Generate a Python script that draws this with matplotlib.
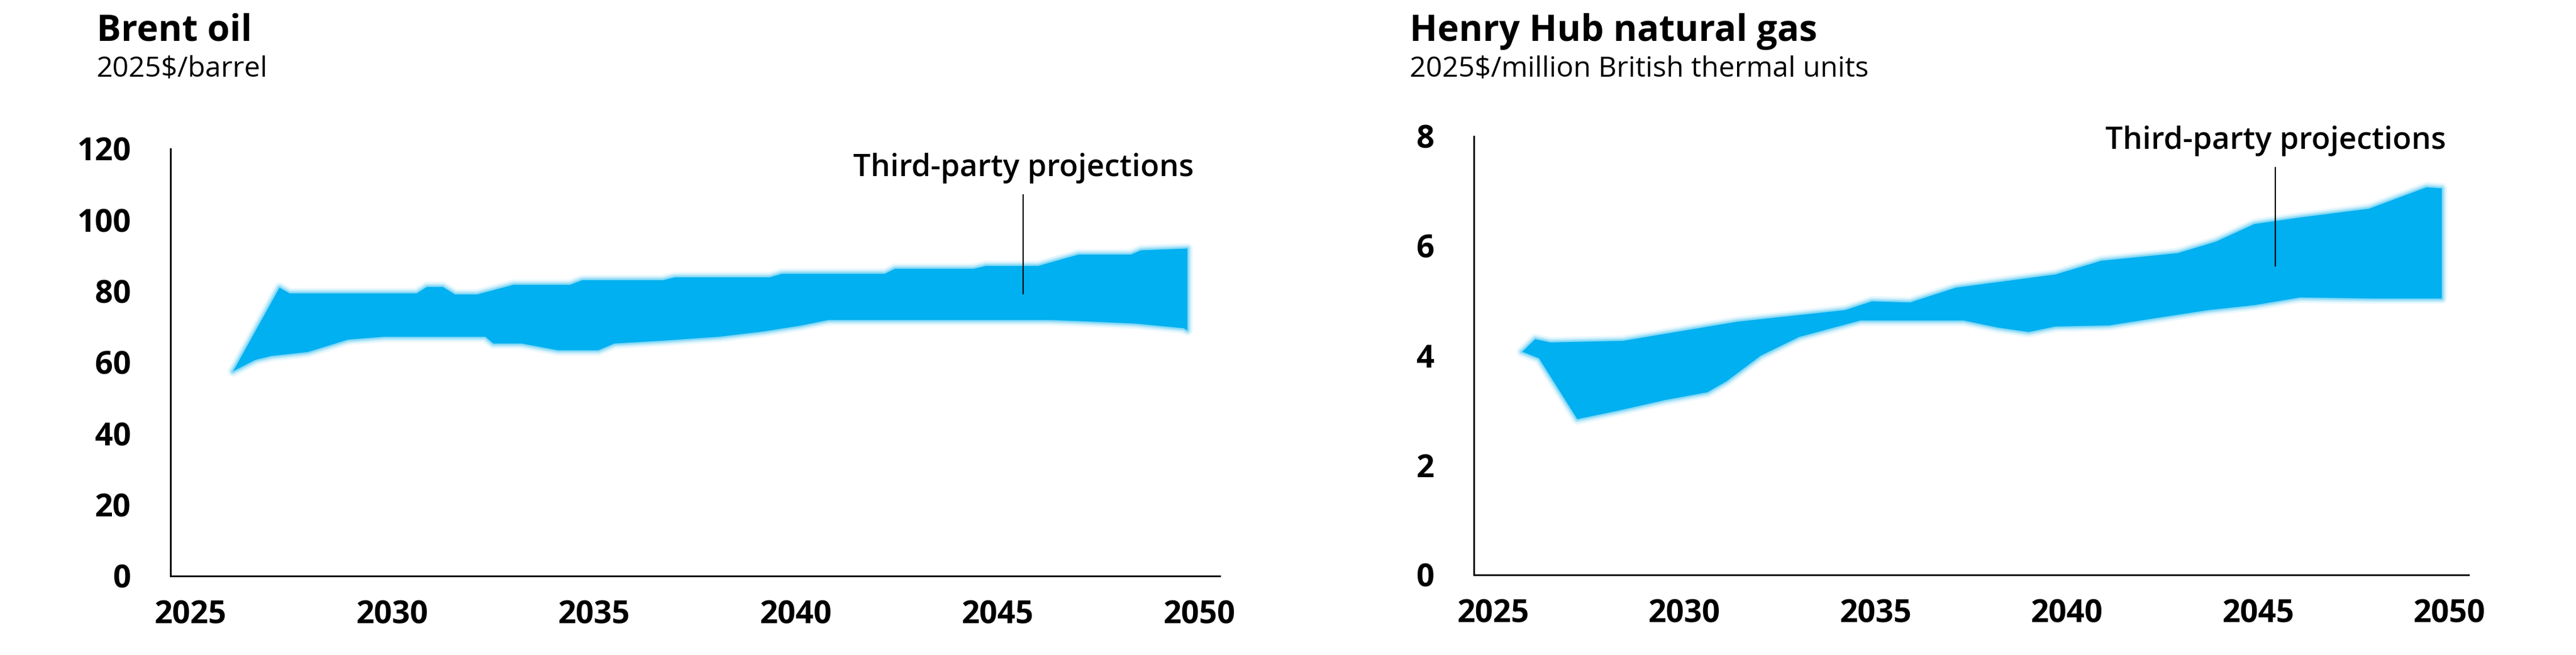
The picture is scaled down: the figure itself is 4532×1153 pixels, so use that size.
import matplotlib
matplotlib.use("Agg")
import matplotlib.pyplot as plt
import numpy as np

plt.rcParams["font.family"] = ["Open Sans", "DejaVu Sans"]

BAND_COLOR = "#00B0F0"

# Brent oil range of third-party projections (2025$/barrel)
oil_hi_years = [2026.05, 2027.2, 2027.45, 2030.6, 2030.85, 2031.25, 2031.55, 2032.1,
                2033.0, 2034.4, 2034.7, 2036.7, 2037.0, 2039.35, 2039.65, 2042.2,
                2042.45, 2044.4, 2044.7, 2046.0, 2047.0, 2048.3, 2048.55, 2049.7]
oil_hi = [57.5, 81.0, 79.4, 79.4, 81.2, 81.2, 79.1, 79.1,
          81.8, 81.8, 83.1, 83.1, 83.9, 83.9, 84.9, 84.9,
          86.3, 86.3, 87.1, 87.1, 90.3, 90.3, 91.5, 92.0]
oil_lo_years = [2026.05, 2026.6, 2027.0, 2027.9, 2028.9, 2029.8, 2032.3, 2032.5,
                2033.2, 2034.1, 2035.1, 2035.5, 2036.7, 2038.1, 2039.2, 2040.1,
                2040.8, 2046.3, 2047.0, 2048.4, 2049.6, 2049.7]
oil_lo = [57.5, 60.7, 61.8, 62.9, 66.4, 67.2, 67.2, 65.3,
          65.3, 63.4, 63.4, 65.3, 66.1, 67.2, 68.7, 70.3,
          71.9, 71.9, 71.6, 70.9, 69.6, 69.0]

# Henry Hub natural gas range (2025$/million Btu)
gas_hi_years = [2025.76, 2026.1, 2026.5, 2028.4, 2031.4, 2034.2, 2034.9, 2035.9,
                2037.1, 2039.7, 2040.9, 2042.9, 2043.9, 2044.9, 2046.1, 2047.9,
                2049.4, 2049.8]
gas_hi = [4.07, 4.30, 4.24, 4.27, 4.62, 4.83, 4.99, 4.97,
          5.24, 5.48, 5.73, 5.87, 6.08, 6.40, 6.52, 6.68,
          7.07, 7.05]
gas_lo_years = [2025.76, 2026.2, 2027.2, 2028.3, 2029.5, 2030.6, 2031.1, 2032.0,
                2033.0, 2034.6, 2037.3, 2038.2, 2039.0, 2039.7, 2041.1, 2042.2,
                2043.7, 2044.9, 2046.1, 2048.0, 2049.8]
gas_lo = [4.07, 3.95, 2.84, 3.00, 3.19, 3.33, 3.53, 4.00,
          4.34, 4.64, 4.64, 4.51, 4.43, 4.53, 4.55, 4.67,
          4.83, 4.92, 5.06, 5.04, 5.04]

year_ticks = [2025, 2030, 2035, 2040, 2045, 2050]
oil_ticks = [0, 20, 40, 60, 80, 100, 120]
gas_ticks = [0, 2, 4, 6, 8]

panels = [
    dict(rect=[0.0662, 0.1206, 0.4073, 0.6522], title="Brent oil",
         unit="2025$/barrel", title_x=170 / 4532,
         hi_x=oil_hi_years, hi=oil_hi, lo_x=oil_lo_years, lo=oil_lo,
         yticks=oil_ticks, ylim=(0, 120),
         note_x=2045.63, note_text_y=112.3, note_top=107.1, note_bot=79.3),
    dict(rect=[0.5722, 0.1223, 0.3861, 0.6696], title="Henry Hub natural gas",
         unit="2025$/million British thermal units", title_x=2480 / 4532,
         hi_x=gas_hi_years, hi=gas_hi, lo_x=gas_lo_years, lo=gas_lo,
         yticks=gas_ticks, ylim=(0, 8),
         note_x=2045.45, note_text_y=7.77, note_top=7.43, note_bot=5.64),
]

fig = plt.figure(figsize=(45.32, 11.53), dpi=100)

for p in panels:
    ax = fig.add_axes(p["rect"])

    # band of projections as a closed polygon (upper edge, then lower edge back)
    xs = np.r_[p["hi_x"], p["lo_x"][::-1], p["hi_x"][:1]]
    ys = np.r_[p["hi"], p["lo"][::-1], p["hi"][:1]]
    # soft halo to mimic the blurred edge of the original
    for lw, a in [(14, 0.07), (10, 0.1), (7, 0.15), (4, 0.25)]:
        ax.plot(xs, ys, color=BAND_COLOR, lw=lw, alpha=a,
                solid_joinstyle="round", solid_capstyle="round")
    ax.fill(xs, ys, color=BAND_COLOR, lw=0)

    # annotation
    ax.plot([p["note_x"], p["note_x"]], [p["note_bot"], p["note_top"]],
            color="black", lw=1.6)
    ax.text(p["note_x"], p["note_text_y"], "Third-party projections",
            ha="center", va="baseline", fontsize=39, fontweight="semibold")

    ax.set_xlim(2024.5, 2050.5)
    ax.set_ylim(*p["ylim"])
    ax.set_xticks(year_ticks)
    ax.set_yticks(p["yticks"])
    ax.tick_params(axis="both", length=0, labelsize=40)
    ax.tick_params(axis="x", pad=30)
    ax.tick_params(axis="y", pad=50)
    for lab in ax.get_xticklabels() + ax.get_yticklabels():
        lab.set_fontweight("bold")
    for s in ["top", "right"]:
        ax.spines[s].set_visible(False)
    for s in ["left", "bottom"]:
        ax.spines[s].set_linewidth(2.2)

    fig.text(p["title_x"], 1 - 72 / 1153, p["title"], fontsize=46,
             fontweight="bold", va="baseline", ha="left")
    fig.text(p["title_x"], 1 - 135 / 1153, p["unit"], fontsize=36,
             fontweight="medium", va="baseline", ha="left")

fig.savefig("out.png", dpi=100)
